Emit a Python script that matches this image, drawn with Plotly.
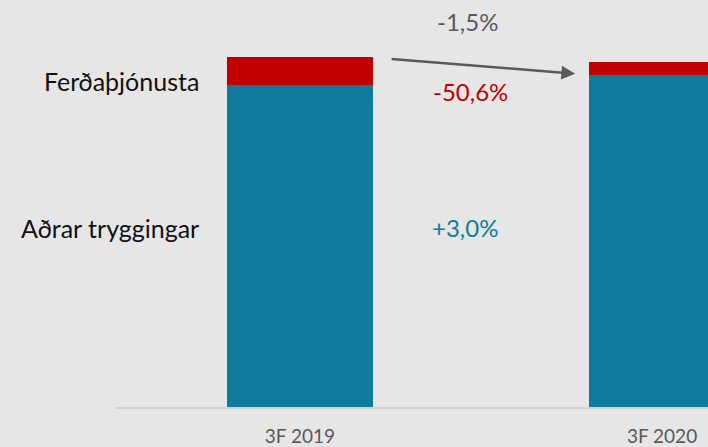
import plotly.graph_objects as go

categories = ["3F 2019", "3F 2020"]
adrar = [100.5, 103.5]
ferda = [8.7, 4.3]
series_names = ["Aðrar tryggingar", "Ferðaþjónusta"]
change_labels = ["+3,0%", "-50,6%", "-1,5%"]

TEAL = "#107b9c"
RED = "#c00000"
GRAY = "#595959"
BG = "#e6e6e6"
FONT = "Lato, Open Sans, sans-serif"

x = list(range(len(categories)))
fig = go.Figure()
fig.add_trace(go.Bar(x=x, y=adrar, name=series_names[0], marker=dict(color=TEAL, line=dict(width=0)), width=0.403))
fig.add_trace(go.Bar(x=x, y=ferda, name=series_names[1], marker=dict(color=RED, line=dict(width=0)), width=0.403))

tot = [a + f for a, f in zip(adrar, ferda)]

ann = []
# series labels on the left
ann.append(dict(x=-0.272, y=101.6, xref="x", yref="y", text=series_names[1],
                showarrow=False, xanchor="right", yanchor="middle", font=dict(size=25, color="#111111", family=FONT)))
ann.append(dict(x=-0.272, y=55.8, xref="x", yref="y", text=series_names[0],
                showarrow=False, xanchor="right", yanchor="middle", font=dict(size=25, color="#111111", family=FONT)))
# change labels
ann.append(dict(x=0.455, y=56.0, xref="x", yref="y", text=change_labels[0], showarrow=False,
                xanchor="center", yanchor="middle", font=dict(size=24, color=TEAL, family=FONT)))
ann.append(dict(x=0.47, y=98.6, xref="x", yref="y", text=change_labels[1], showarrow=False,
                xanchor="center", yanchor="middle", font=dict(size=24, color=RED, family=FONT)))
ann.append(dict(x=0.462, y=120.4, xref="x", yref="y", text=change_labels[2], showarrow=False,
                xanchor="center", yanchor="middle", font=dict(size=24, color=GRAY, family=FONT)))
# arrow
ann.append(dict(x=0.76, y=tot[1] - 3.8, ax=0.249, ay=tot[0] - 0.6, xref="x", yref="y", axref="x", ayref="y",
                text="", showarrow=True, arrowhead=2, arrowsize=1.1, arrowwidth=2.5, arrowcolor=GRAY))

fig.update_layout(
    barmode="stack",
    width=708, height=447,
    margin=dict(l=116, r=0, t=0, b=40, autoexpand=False),
    paper_bgcolor=BG, plot_bgcolor=BG,
    showlegend=False,
    annotations=ann,
    font=dict(family=FONT),
    xaxis=dict(range=[-0.508, 1.127], tickvals=x, ticktext=categories, showgrid=False, zeroline=False,
               automargin=False,
               showline=True, linecolor="#d4d4d4", linewidth=1.5, ticks="", ticklabelstandoff=11,
               tickfont=dict(size=19, color=GRAY, family=FONT)),
    yaxis=dict(range=[0, 127], visible=False, showgrid=False, zeroline=False, automargin=False),
)

fig.write_html("out.html", config={"displayModeBar": False},
               post_script="document.body.style.margin='0';document.body.style.background='#e6e6e6';")
